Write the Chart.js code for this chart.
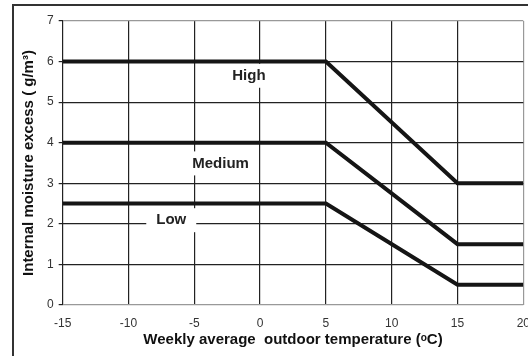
<!DOCTYPE html>
<html>
<head>
<meta charset="utf-8">
<script src="https://cdn.jsdelivr.net/npm/chart.js@4.4.1/dist/chart.umd.min.js"></script>
<style>
  html, body { margin: 0; padding: 0; background: #fff; overflow: hidden; }
  body { width: 528px; height: 356px; position: relative; }
  #frame { position: absolute; left: 12px; top: 4px; width: 600px; height: 400px; border: 2px solid #333; box-sizing: border-box; pointer-events: none; }
  #wrap { position: absolute; left: 0; top: 0; width: 541px; height: 356px; }
</style>
</head>
<body>
<div id="wrap"><canvas id="chart"></canvas></div>
<div id="frame"></div>
<script>
// outdoor temperature break points (degC)
const temps = [-15, 5, 15, 20];
// moisture excess (g/m3) per humidity class
const high = [6, 6, 3, 3];
const medium = [4, 4, 1.5, 1.5];
const low = [2.5, 2.5, 0.5, 0.5];

const xTicks = [-15, -10, -5, 0, 5, 10, 15, 20];
const yTicks = [0, 1, 2, 3, 4, 5, 6, 7];

// class names written on the chart, anchored in data units
const classNames = ['High', 'Medium', 'Low'];
const nameX = [-0.85, -3, -6.75];
const nameY = [5.65, 3.49, 2.09];

const FONT = '"Liberation Sans", Arial, sans-serif';

const pts = (ys) => temps.map((t, i) => ({ x: t, y: ys[i] }));

const lineStyle = {
  borderColor: '#151515',
  borderWidth: 4,
  pointRadius: 0,
  fill: false,
  tension: 0,
};

// white boxes with the class names, drawn over the grid
const classLabels = {
  id: 'classLabels',
  beforeDatasetsDraw(chart) {
    const { ctx, scales } = chart;
    ctx.save();
    ctx.font = 'bold 15px ' + FONT;
    ctx.textAlign = 'center';
    ctx.textBaseline = 'middle';
    classNames.forEach((name, i) => {
      const cx = scales.x.getPixelForValue(nameX[i]);
      const cy = scales.y.getPixelForValue(nameY[i]);
      const w = ctx.measureText(name).width + 20;
      ctx.fillStyle = '#fff';
      ctx.fillRect(cx - w / 2, cy - 12, w, 24);
      ctx.fillStyle = '#222';
      ctx.fillText(name, cx, cy);
    });
    ctx.restore();
  },
};

new Chart(document.getElementById('chart'), {
  type: 'line',
  data: {
    datasets: [
      { label: 'High', data: pts(high), ...lineStyle },
      { label: 'Medium', data: pts(medium), ...lineStyle },
      { label: 'Low', data: pts(low), ...lineStyle },
    ],
  },
  options: {
    responsive: true,
    maintainAspectRatio: false,
    animation: false,
    layout: { padding: { left: 20, top: 21, right: 6, bottom: 0 } },
    plugins: {
      legend: { display: false },
      tooltip: { enabled: false },
    },
    scales: {
      x: {
        type: 'linear',
        min: -15,
        max: 20,
        afterBuildTicks: (s) => { s.ticks = xTicks.map((v) => ({ value: v })); },
        afterFit: (s) => { s.height = 51; },
        border: { display: false },
        grid: {
          color: (c) => (c.tick && c.tick.value === 20 ? '#999' : '#222'),
          lineWidth: 1.2,
          drawTicks: false,
        },
        ticks: {
          padding: 11,
          color: '#333',
          font: { family: FONT, size: 12 },
        },
        title: {
          display: true,
          text: 'Weekly average  outdoor temperature (ᵒC)',
          color: '#111',
          padding: { top: 0, bottom: 7 },
          font: { family: FONT, size: 15, weight: 'bold' },
        },
      },
      y: {
        min: 0,
        max: 7,
        afterBuildTicks: (s) => { s.ticks = yTicks.map((v) => ({ value: v })); },
        border: { display: false },
        grid: {
          color: (c) => (c.tick && (c.tick.value === 7 || c.tick.value === 0) ? '#999' : '#222'),
          tickColor: '#222',
          lineWidth: 1.2,
          tickLength: 4,
        },
        ticks: {
          padding: 5,
          color: '#333',
          font: { family: FONT, size: 12 },
        },
        title: {
          display: true,
          text: 'Internal moisture excess ( g/m³)',
          color: '#111',
          padding: { top: 0, bottom: 4 },
          font: { family: FONT, size: 15, weight: 'bold' },
        },
      },
    },
  },
  plugins: [classLabels],
});
</script>
</body>
</html>
